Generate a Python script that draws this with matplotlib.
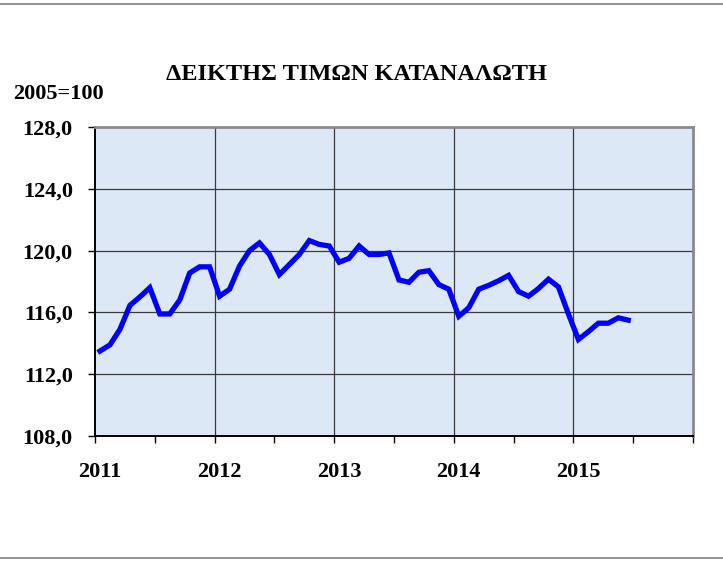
import numpy as np
import matplotlib
matplotlib.use('Agg')
import matplotlib.pyplot as plt
from matplotlib.lines import Line2D
from matplotlib.ticker import MultipleLocator, FixedLocator

# Δείκτης τιμών καταναλωτή, μηνιαία τιμές (2005=100)
years = [2011, 2012, 2013, 2014, 2015]
cpi_2011 = [113.5, 113.9, 114.9, 116.45, 117.0, 117.6, 115.9, 115.9, 116.8, 118.55, 118.95, 118.95]
cpi_2012 = [117.05, 117.5, 119.0, 120.0, 120.5, 119.75, 118.45, 119.1, 119.75, 120.65, 120.4, 120.3]
cpi_2013 = [119.25, 119.5, 120.3, 119.75, 119.75, 119.85, 118.1, 117.95, 118.6, 118.7, 117.8, 117.5]
cpi_2014 = [115.75, 116.3, 117.5, 117.75, 118.05, 118.4, 117.35, 117.05, 117.55, 118.15, 117.65, 115.9]
cpi_2015 = [114.25, 114.75, 115.3, 115.3, 115.65, 115.5]
year_labels = ['2011', '2012', '2013', '2014', '2015']
y_ticks = [108, 112, 116, 120, 124, 128]

values = cpi_2011 + cpi_2012 + cpi_2013 + cpi_2014 + cpi_2015
# κάθε μήνας στο κέντρο της κατηγορίας του
months = (np.arange(len(values)) + 0.5) / 12 + years[0]

plt.rcParams['font.family'] = ['Liberation Serif', 'DejaVu Serif']
plt.rcParams['font.weight'] = 'bold'

fig = plt.figure(figsize=(7.23, 5.62), dpi=100)
ax = fig.add_axes([0.1314, 0.2242, 0.8271, 0.5498])
ax.set_facecolor('#dce8f5')

ax.plot(months, values, color='#0000ff', linewidth=3.8, solid_joinstyle='miter', zorder=3)

ax.set_xlim(2011, 2016)
ax.set_ylim(108, 128)

ax.set_yticks(y_ticks)
ax.set_yticklabels([f'{v:.1f}'.replace('.', ',') for v in y_ticks], fontsize=16, fontweight='bold')

# γραμμές πλέγματος στα όρια ετών, ετικέτες στον Ιανουάριο
ax.xaxis.set_major_locator(MultipleLocator(0.5))
ax.set_xticklabels([])
ax.xaxis.set_minor_locator(FixedLocator([y + 0.5 / 12 for y in years]))
ax.xaxis.set_minor_formatter(plt.FixedFormatter(year_labels))
ax.tick_params(axis='x', which='major', length=5, width=1, direction='out', color='black')
ax.tick_params(axis='x', which='minor', length=0, pad=19, labelsize=16)
ax.tick_params(axis='y', length=5, width=1, direction='out', pad=11)
for lbl in ax.get_xticklabels(minor=True):
    lbl.set_fontweight('bold')

for yr in range(2012, 2016):
    ax.axvline(yr, color='#3a3a3a', linewidth=0.9, zorder=2)
for v in y_ticks[1:-1]:
    ax.axhline(v, color='#3a3a3a', linewidth=0.9, zorder=2)

ax.spines['left'].set_color('black')
ax.spines['bottom'].set_color('black')
ax.spines['left'].set_linewidth(1.4)
ax.spines['bottom'].set_linewidth(1.4)
ax.spines['top'].set_color('#8a8a8a')
ax.spines['right'].set_color('#8a8a8a')
ax.spines['top'].set_linewidth(2)
ax.spines['right'].set_linewidth(2)

fig.text(0.4924, 1 - 80 / 562, 'ΔΕΙΚΤΗΣ ΤΙΜΩΝ ΚΑΤΑΝΑΛΩΤΗ', ha='center', va='baseline',
         fontsize=17.5, fontweight='bold')
fig.text(0.0176, 1 - 99 / 562, '2005=100', ha='left', va='baseline', fontsize=16, fontweight='bold')

# γραμμές πλαισίου πάνω και κάτω
fig.add_artist(Line2D([0, 1], [1 - 4 / 562, 1 - 4 / 562], color='#808080', linewidth=1.2))
fig.add_artist(Line2D([0, 1], [1 - 558 / 562, 1 - 558 / 562], color='#808080', linewidth=1.2))

fig.savefig('out.png', dpi=100)
